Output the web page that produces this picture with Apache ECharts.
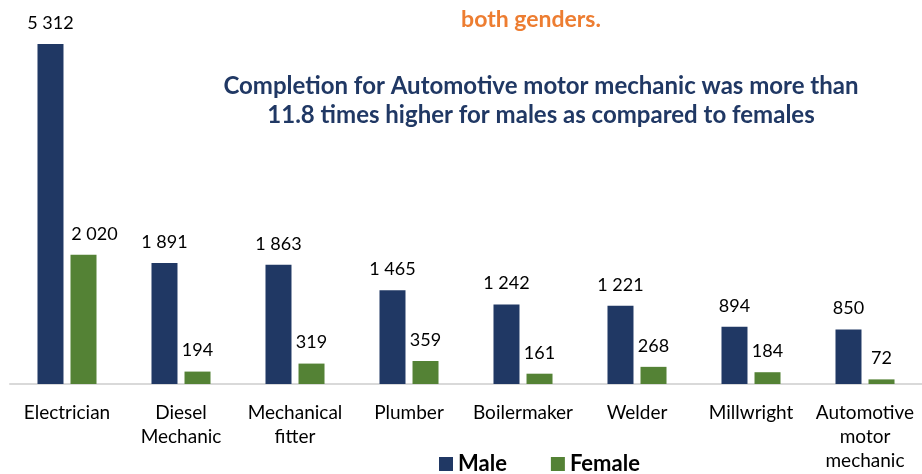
<!DOCTYPE html>
<html>
<head>
<meta charset="utf-8">
<style>
  html, body { margin: 0; padding: 0; background: #ffffff; }
  #chart { width: 922px; height: 474px; }
</style>
<script src="https://cdn.jsdelivr.net/npm/echarts@6/dist/echarts.min.js"></script>
</head>
<body>
<div id="chart"></div>
<script>
// data
var trades = ['Electrician', 'Diesel\nMechanic', 'Mechanical\nfitter', 'Plumber', 'Boilermaker', 'Welder', 'Millwright', 'Automotive\nmotor\nmechanic']
var male = [5312, 1891, 1863, 1465, 1242, 1221, 894, 850]
var female = [2020, 194, 319, 359, 161, 268, 184, 72]

var fontName = 'Lato, "Noto Sans", sans-serif'

// 5312 -> "5 312"
function fmt(v) {
  return String(v).replace(/\B(?=(\d{3})+(?!\d))/g, ' ')
}

// the Electrician female label sits a little right of its bar
var femaleData = female.map(function (v, i) {
  if (i === 0) {
    return { value: v, label: { offset: [11, 0] } }
  }
  return v
})

var myChart = echarts.init(document.getElementById('chart'))
var option = {
  backgroundColor: '#ffffff',
  animation: false,
  title: [{
    text: 'both genders.',
    left: 531,
    top: 8,
    padding: 0,
    textAlign: 'center',
    textStyle: { color: '#ED7D31', fontFamily: fontName, fontWeight: 'bold', fontSize: 23 }
  }, {
    text: 'Completion for Automotive motor mechanic was more than\n11.8 times higher for males as compared to females',
    left: 541,
    top: 72,
    padding: 0,
    textAlign: 'center',
    textStyle: { color: '#203864', fontFamily: fontName, fontWeight: 'bold', fontSize: 24, lineHeight: 29 }
  }],
  legend: {
    data: ['Male', 'Female'],
    left: 439,
    top: 453,
    padding: 0,
    itemWidth: 14,
    itemHeight: 14,
    itemGap: 44,
    icon: 'rect',
    textStyle: { color: '#000000', fontFamily: fontName, fontWeight: 'bold', fontSize: 22 }
  },
  grid: {
    left: 10,
    right: -8,
    top: -3,
    bottom: 90,
    containLabel: false
  },
  xAxis: {
    type: 'category',
    data: trades,
    axisTick: { show: false },
    axisLine: { lineStyle: { color: '#D9D9D9', width: 2 } },
    axisLabel: {
      interval: 0,
      color: '#000000',
      fontFamily: fontName,
      fontSize: 19,
      lineHeight: 24,
      margin: 17
    }
  },
  yAxis: {
    type: 'value',
    min: 0,
    max: 6000,
    show: false,
    splitLine: { show: false }
  },
  series: [{
    name: 'Male',
    type: 'bar',
    data: male,
    barWidth: 26,
    barGap: '27%',
    itemStyle: { color: '#203864' },
    label: {
      show: true,
      position: 'top',
      distance: 12,
      color: '#000000',
      fontFamily: fontName,
      fontSize: 18,
      formatter: function (p) { return fmt(p.value) }
    }
  }, {
    name: 'Female',
    type: 'bar',
    data: femaleData,
    barWidth: 26,
    itemStyle: { color: '#548235' },
    label: {
      show: true,
      position: 'top',
      distance: 12,
      color: '#000000',
      fontFamily: fontName,
      fontSize: 18,
      formatter: function (p) { return fmt(p.value) }
    }
  }]
}
myChart.setOption(option)
</script>
</body>
</html>
